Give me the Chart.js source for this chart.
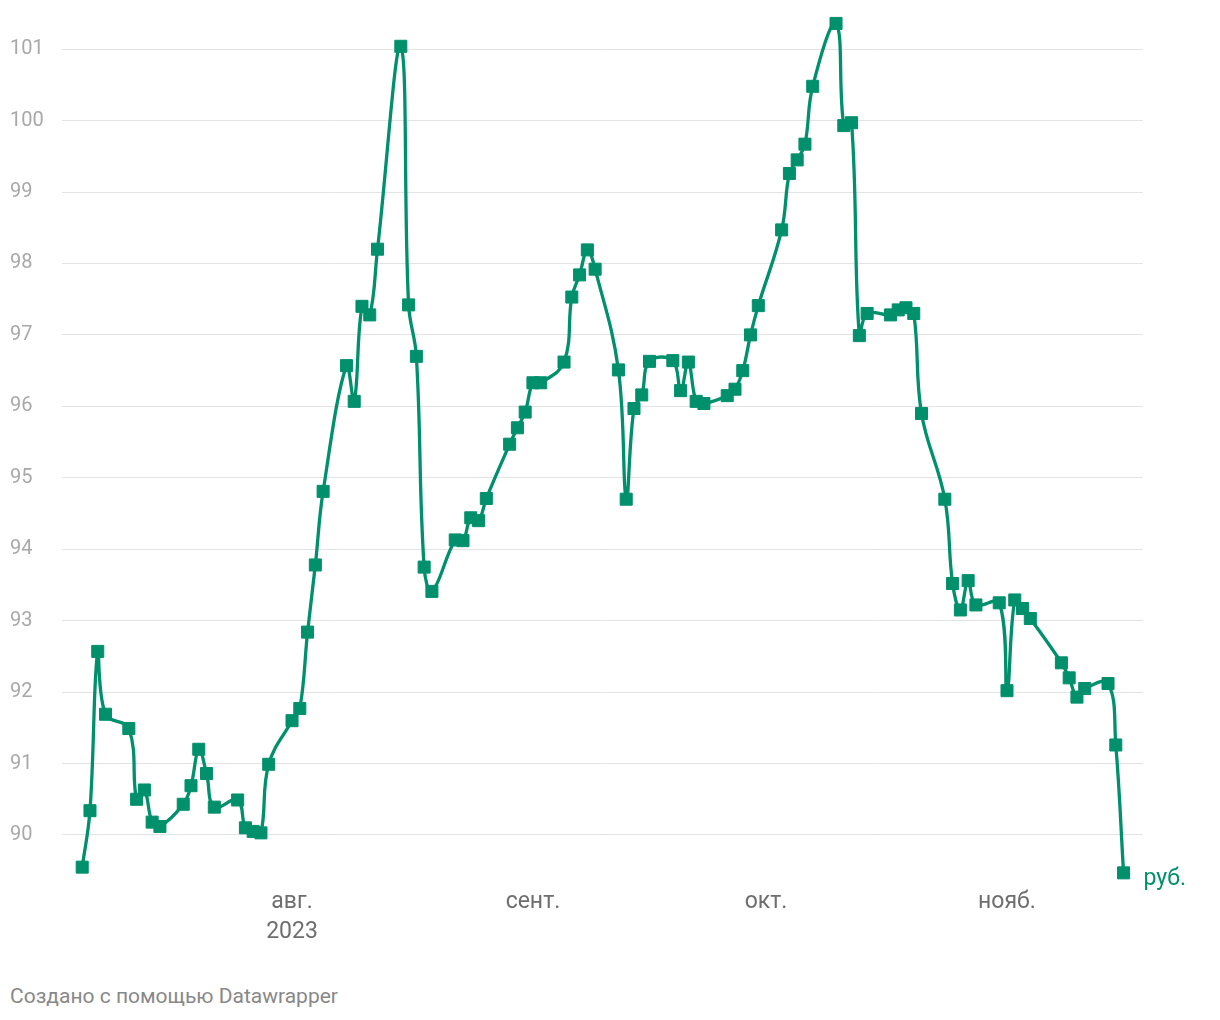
<!DOCTYPE html>
<html lang="ru">
<head>
<meta charset="utf-8">
<script src="https://cdn.jsdelivr.net/npm/chart.js@4.4.1/dist/chart.umd.min.js"></script>
<style>
    html, body { margin: 0; padding: 0; background: #fff; }
    #wrap { position: relative; width: 1220px; height: 960px; }
    .credit { position: absolute; left: 10px; top: 984px; font: 21px Roboto, sans-serif; color: #888; }
</style>
</head>
<body>
<div id="wrap"><canvas id="chart" width="1220" height="960"></canvas></div>
<div class="credit">Создано с помощью Datawrapper</div>
<script>
// --- Data: official USD rate, rub ---
const DATES = [
    '2023-07-05', '2023-07-06', '2023-07-07', '2023-07-08', '2023-07-11', '2023-07-12', '2023-07-13', '2023-07-14', '2023-07-15',
    '2023-07-18', '2023-07-19', '2023-07-20', '2023-07-21', '2023-07-22', '2023-07-25', '2023-07-26', '2023-07-27', '2023-07-28', '2023-07-29',
    '2023-08-01', '2023-08-02', '2023-08-03', '2023-08-04', '2023-08-05', '2023-08-08', '2023-08-09', '2023-08-10', '2023-08-11', '2023-08-12',
    '2023-08-15', '2023-08-16', '2023-08-17', '2023-08-18', '2023-08-19', '2023-08-22', '2023-08-23', '2023-08-24', '2023-08-25', '2023-08-26',
    '2023-08-29', '2023-08-30', '2023-08-31', '2023-09-01', '2023-09-02', '2023-09-05', '2023-09-06', '2023-09-07', '2023-09-08', '2023-09-09',
    '2023-09-12', '2023-09-13', '2023-09-14', '2023-09-15', '2023-09-16', '2023-09-19', '2023-09-20', '2023-09-21', '2023-09-22', '2023-09-23',
    '2023-09-26', '2023-09-27', '2023-09-28', '2023-09-29', '2023-09-30', '2023-10-03', '2023-10-04', '2023-10-05', '2023-10-06', '2023-10-07',
    '2023-10-10', '2023-10-11', '2023-10-12', '2023-10-13', '2023-10-14', '2023-10-17', '2023-10-18', '2023-10-19', '2023-10-20', '2023-10-21',
    '2023-10-24', '2023-10-25', '2023-10-26', '2023-10-27', '2023-10-28', '2023-10-31', '2023-11-01', '2023-11-02', '2023-11-03', '2023-11-04',
    '2023-11-08', '2023-11-09', '2023-11-10', '2023-11-11', '2023-11-14', '2023-11-15', '2023-11-16'
]
const RATES = [
    89.55, 90.34, 92.57, 91.69, 91.49, 90.50, 90.63, 90.18, 90.12,
    90.43, 90.69, 91.20, 90.86, 90.39, 90.49, 90.10, 90.05, 90.03, 90.99,
    91.60, 91.77, 92.84, 93.78, 94.81, 96.57, 96.07, 97.40, 97.28, 98.20,
    101.04, 97.42, 96.70, 93.75, 93.41, 94.13, 94.12, 94.44, 94.40, 94.71,
    95.47, 95.70, 95.92, 96.33, 96.33, 96.62, 97.53, 97.84, 98.19, 97.92,
    96.51, 94.70, 95.97, 96.16, 96.63, 96.64, 96.22, 96.62, 96.07, 96.04,
    96.15, 96.24, 96.50, 97.00, 97.41, 98.47, 99.26, 99.45, 99.67, 100.48,
    101.36, 99.93, 99.97, 96.99, 97.30, 97.28, 97.35, 97.38, 97.30, 95.90,
    94.70, 93.52, 93.15, 93.56, 93.22, 93.25, 92.02, 93.29, 93.17, 93.03,
    92.41, 92.20, 91.93, 92.05, 92.12, 91.26, 89.47
]
const Y_TICKS = [90, 91, 92, 93, 94, 95, 96, 97, 98, 99, 100, 101]
const MONTH_TICKS = ['2023-08-01', '2023-09-01', '2023-10-01', '2023-11-01']
const MONTH_LABELS = [['авг.', '2023'], 'сент.', 'окт.', 'нояб.']
const UNIT_LABEL = 'руб.'

const GREEN = '#00906c'
const FONT = 'Roboto, sans-serif'
const ORIGIN = Date.parse('2023-08-01')

// days since Aug 1 -> linear x axis (no date adapter offline)
const dayOf = s => (Date.parse(s) - ORIGIN) / 86400000

const points = DATES.map((d, i) => ({ x: dayOf(d), y: RATES[i] }))

const unitLabel = {
    id: 'unitLabel',
    afterDatasetsDraw(chart) {
        const pts = chart.getDatasetMeta(0).data
        const last = pts[pts.length - 1]
        const ctx = chart.ctx
        ctx.save()
        ctx.font = '23px ' + FONT
        ctx.fillStyle = GREEN
        ctx.textBaseline = 'middle'
        ctx.fillText(UNIT_LABEL, last.x + 20, last.y + 6)
        ctx.restore()
    }
}

new Chart(document.getElementById('chart'), {
    type: 'line',
    data: {
        datasets: [{
            data: points,
            borderColor: GREEN,
            backgroundColor: GREEN,
            borderWidth: 3.3,
            tension: 0.4,
            clip: false,
            pointStyle: 'rect',
            pointRadius: 8.5,
            pointBorderWidth: 1,
            pointBackgroundColor: GREEN,
            pointBorderColor: GREEN,
        }]
    },
    options: {
        responsive: false,
        animation: false,
        layout: { padding: { left: 10, right: 77, top: 10, bottom: 10 } },
        plugins: { legend: { display: false }, tooltip: { enabled: false } },
        scales: {
            x: {
                type: 'linear', min: -29.6, max: 109.5,
                grid: { display: false }, border: { display: false },
                afterBuildTicks: s => { s.ticks = MONTH_TICKS.map(d => ({ value: dayOf(d) })) },
                afterFit: s => { s.height = 70 },
                ticks: {
                    autoSkip: false, maxRotation: 0, padding: -1, color: '#6e6e6e',
                    font: { family: FONT, size: 23, lineHeight: 1.3 },
                    callback: (v, i) => MONTH_LABELS[i],
                },
            },
            y: {
                min: 89.37, max: 101.52,
                afterBuildTicks: s => { s.ticks = Y_TICKS.map(v => ({ value: v })) },
                afterFit: s => { s.width = 52 },
                grid: { color: '#e3e3e3', lineWidth: 1, drawTicks: false },
                border: { display: false },
                ticks: { crossAlign: 'far', padding: 0, color: '#a8a8a8', font: { family: FONT, size: 20 } },
            }
        }
    },
    plugins: [unitLabel]
})
</script>
</body>
</html>
